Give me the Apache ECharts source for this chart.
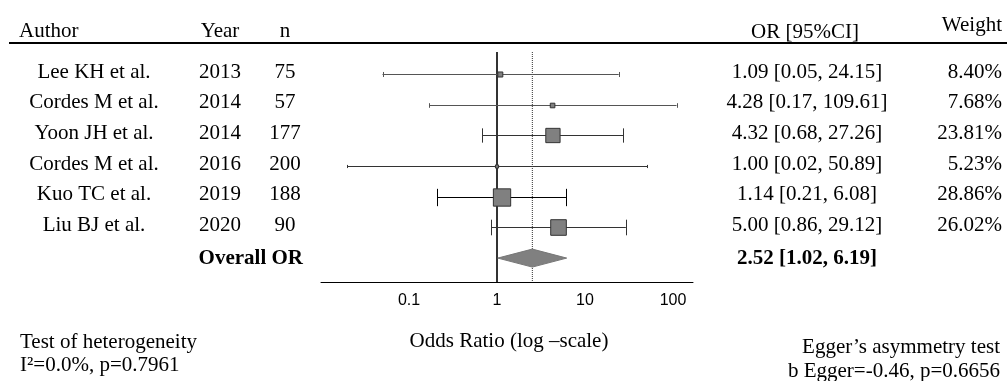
<!DOCTYPE html>
<html><head><meta charset="utf-8">
<script src="https://cdn.jsdelivr.net/npm/echarts@6/dist/echarts.min.js"></script>
<style>html,body{margin:0;padding:0;background:#fff}#c{width:1007px;height:381px}</style>
</head><body><div id="c"></div>
<script>
// ---- data ----
const authors = ['Lee KH et al.', 'Cordes M et al.', 'Yoon JH et al.', 'Cordes M et al.', 'Kuo TC et al.', 'Liu BJ et al.'];
const years = [2013, 2014, 2014, 2016, 2019, 2020];
const ns = [75, 57, 177, 200, 188, 90];
const oddsRatios = [1.09, 4.28, 4.32, 1.00, 1.14, 5.00];
const ciLow = [0.05, 0.17, 0.68, 0.02, 0.21, 0.86];
const ciHigh = [24.15, 109.61, 27.26, 50.89, 6.08, 29.12];
const weights = [8.40, 7.68, 23.81, 5.23, 28.86, 26.02];
const overallOR = 2.52;
const overallLow = 1.02;
const overallHigh = 6.19;
const tickValues = [0.1, 1, 10, 100];
const tickLabels = ['0.1', '1', '10', '100'];

// ---- styles ----
const SERIF = "'Liberation Serif', 'Times New Roman', serif";
const SANS = "'Liberation Sans', Arial, sans-serif";
const FS = 21;
const lineColors = ['#555', '#555', '#333', '#333', '#000', '#333'];
const ROW0 = 0.72;           // first row position on the (inverted) y axis
const TEXT_DY = -2;
const SQ = 0.6;              // px per weight %

const lg = v => Math.log10(v);
const rows = authors.map((a, i) => i + ROW0);
const overallRow = authors.length + ROW0;
const fmt = (o, l, h) => o.toFixed(2) + ' [' + l.toFixed(2) + ', ' + h.toFixed(2) + ']';

const ciData = authors.map((a, i) => [rows[i], lg(ciLow[i]), lg(ciHigh[i]), lg(oddsRatios[i]), weights[i]]);
const textData = authors.map((a, i) => [0, rows[i]]);

const chart = echarts.init(document.getElementById('c'), null, {renderer: 'canvas'});
const crisp = v => Math.round(v) + 0.5;

function txt(x, y, text, align, bold) {
  return {type: 'text', x: x, y: y, style: {text: text, font: (bold ? 'bold ' : '') + FS + 'px ' + SERIF, fill: '#000', align: align, verticalAlign: 'middle'}};
}

chart.setOption({
  animation: false,
  backgroundColor: '#fff',
  grid: {left: 321, width: 372, top: 52, height: 230},
  xAxis: {
    type: 'value', min: -2, max: 2.227, interval: 1, position: 'bottom',
    axisLine: {show: true, onZero: false, lineStyle: {color: '#000', width: 1}},
    axisTick: {show: false}, splitLine: {show: false},
    axisLabel: {
      margin: 11, color: '#000', fontFamily: SANS, fontSize: 16,
      showMinLabel: true, showMaxLabel: true,
      formatter: v => {
        for (let i = 0; i < tickValues.length; i++) if (Math.abs(lg(tickValues[i]) - v) < 1e-6) return tickLabels[i];
        return '';
      }
    }
  },
  yAxis: {type: 'value', min: 0, max: 7.5, inverse: true, show: false},
  graphic: [
    {type: 'line', shape: {x1: 9, y1: 43, x2: 1007, y2: 43}, style: {stroke: '#000', lineWidth: 2}},
    txt(19, 31.5, 'Author', 'left'),
    txt(220, 31.5, 'Year', 'center'),
    txt(285, 31.5, 'n', 'center'),
    txt(805, 32, 'OR [95%CI]', 'center'),
    txt(1002, 25, 'Weight', 'right'),
    txt(20, 342.5, 'Test of heterogeneity', 'left'),
    txt(20, 365.5, 'I\u00B2=0.0%, p=0.7961', 'left'),
    txt(509, 341, 'Odds Ratio (log \u2013scale)', 'center'),
    txt(1000, 347.5, 'Egger\u2019s asymmetry test', 'right'),
    txt(1000, 371, 'b Egger=-0.46, p=0.6656', 'right')
  ],
  series: [
    {
      type: 'line', data: [[lg(1), 0], [lg(1), 7.5]], symbol: 'none', z: 1,
      lineStyle: {color: '#333', width: 2}, silent: true
    },
    {
      type: 'line', data: [[lg(overallOR), 0], [lg(overallOR), 7.5]], symbol: 'none', z: 1,
      lineStyle: {color: '#333', width: 1, type: 'dotted'}, silent: true
    },
    {
      type: 'custom', clip: false, z: 3, data: ciData,
      encode: {x: [1, 2, 3], y: 0},
      renderItem: (params, api) => {
        const y = api.value(0);
        const pLo = api.coord([api.value(1), y]);
        const pHi = api.coord([api.value(2), y]);
        const pE = api.coord([api.value(3), y]);
        const s = api.value(4) * SQ, h = s / 2;
        const col = lineColors[params.dataIndex];
        const yy = crisp(pE[1]);
        return {type: 'group', children: [
          {type: 'line', shape: {x1: pLo[0], y1: yy, x2: pHi[0], y2: yy}, style: {stroke: col, lineWidth: 1}},
          {type: 'line', shape: {x1: crisp(pLo[0]), y1: yy - h, x2: crisp(pLo[0]), y2: yy + h}, style: {stroke: col, lineWidth: 1}},
          {type: 'line', shape: {x1: crisp(pHi[0]), y1: yy - h, x2: crisp(pHi[0]), y2: yy + h}, style: {stroke: col, lineWidth: 1}},
          {type: 'rect', shape: {x: pE[0] - h, y: yy - h, width: s, height: s}, style: {fill: '#808080', stroke: '#333', lineWidth: 1}}
        ]};
      }
    },
    {
      type: 'custom', clip: false, z: 3, data: [[overallRow, lg(overallLow), lg(overallHigh), lg(overallOR)]],
      encode: {x: [1, 2, 3], y: 0},
      renderItem: (params, api) => {
        const y = api.value(0);
        const a = api.coord([api.value(1), y]);
        const b = api.coord([api.value(2), y]);
        const c = api.coord([api.value(3), y]);
        return {type: 'polygon', shape: {points: [[a[0], a[1]], [c[0], c[1] - 9], [b[0], b[1]], [c[0], c[1] + 9]]},
          style: {fill: '#808080', stroke: '#777', lineWidth: 1}};
      }
    },
    {
      type: 'custom', clip: false, z: 4, data: textData,
      encode: {x: 0, y: 1},
      renderItem: (params, api) => {
        const i = params.dataIndex;
        const y = api.coord([0, api.value(1)])[1] + TEXT_DY;
        return {type: 'group', children: [
          txt(94, y, authors[i], 'center'),
          txt(220, y, String(years[i]), 'center'),
          txt(285, y, String(ns[i]), 'center'),
          txt(807, y, fmt(oddsRatios[i], ciLow[i], ciHigh[i]), 'center'),
          txt(1002, y, weights[i].toFixed(2) + '%', 'right')
        ]};
      }
    },
    {
      type: 'custom', clip: false, z: 4, data: [[0, overallRow]],
      encode: {x: 0, y: 1},
      renderItem: (params, api) => {
        const y = api.coord([0, api.value(1)])[1];
        return {type: 'group', children: [
          txt(303, y, 'Overall OR', 'right', true),
          txt(807, y, fmt(overallOR, overallLow, overallHigh), 'center', true)
        ]};
      }
    }
  ]
});
</script>
</body></html>
